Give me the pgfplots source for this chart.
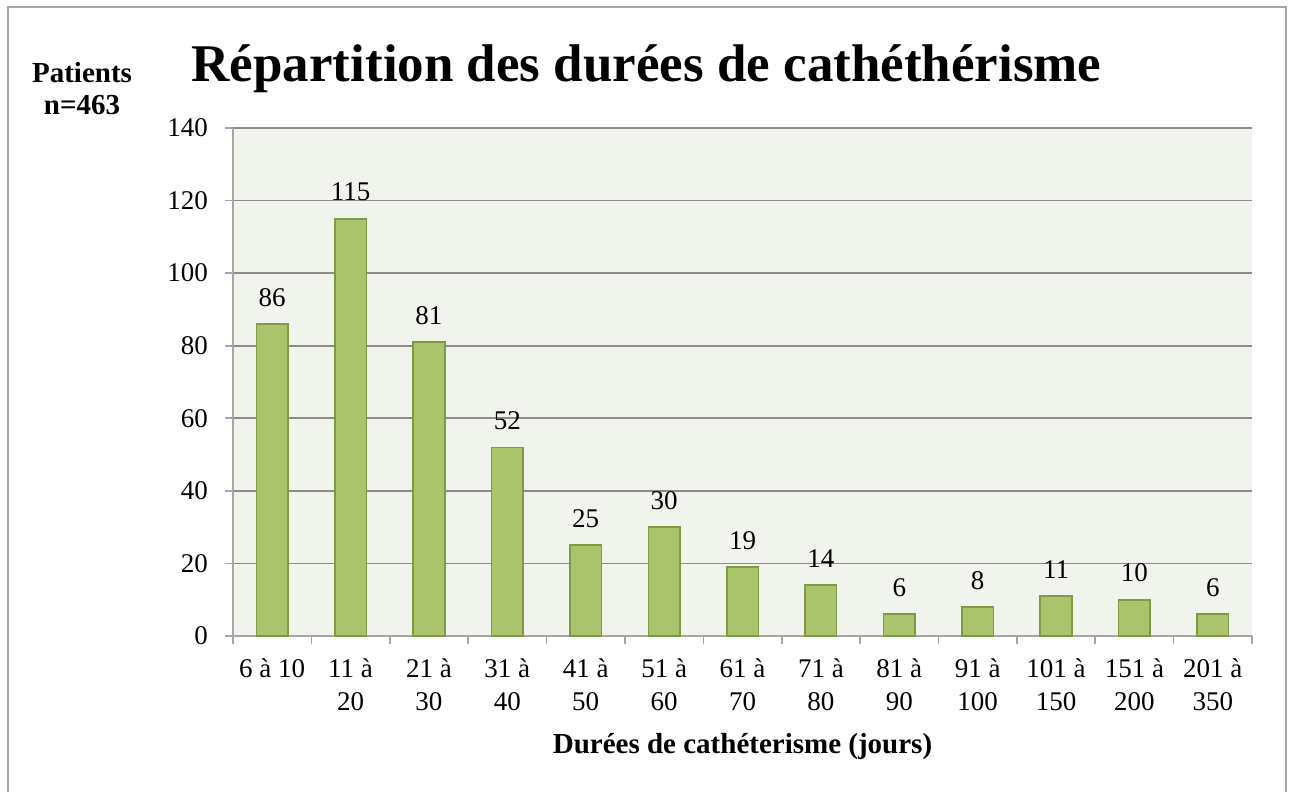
\documentclass[border=0pt]{standalone}
\usepackage{fontspec}
\setmainfont{Liberation Serif}
\usepackage{pgfplots}
\pgfplotsset{compat=1.18}
\definecolor{plotbg}{RGB}{241,244,236}
\definecolor{barfill}{RGB}{170,196,108}
\definecolor{baredge}{RGB}{126,155,68}
\definecolor{gridgray}{RGB}{140,140,140}
\definecolor{framegray}{RGB}{166,166,166}
\newcommand{\lbl}{\fontsize{13.5}{16.5}\selectfont}

\begin{document}
\begin{tikzpicture}
\useasboundingbox (0,0) rectangle (646.5pt,395.5pt);
\draw[framegray, line width=1pt] (4pt,-10pt) rectangle (643pt,392pt);
\node[anchor=base, font=\fontsize{26.5}{30}\selectfont\bfseries] at (323.25pt,354.5pt)
  {Répartition des durées de cathéthérisme};
\node[anchor=base, font=\fontsize{14.5}{16}\selectfont\bfseries] at (41pt,354pt) {Patients};
\node[anchor=base, font=\fontsize{14.5}{16}\selectfont\bfseries] at (41pt,338pt) {n=463};
\node[anchor=base, font=\fontsize{14.5}{16}\selectfont\bfseries] at (371.25pt,19pt)
  {Durées de cathéterisme (jours)};
\begin{axis}[
  at={(116.5pt,77.5pt)}, anchor=south west,
  width=509.5pt, height=254pt, scale only axis,
  /pgf/number format/assume math mode=true,
  xmin=-0.5, xmax=12.5, ymin=0, ymax=140,
  ytick={0,20,...,140},
  xtick={-0.5,0.5,1.5,2.5,3.5,4.5,5.5,6.5,7.5,8.5,9.5,10.5,11.5,12.5},
  xticklabels={},
  extra x ticks={0,1,2,3,4,5,6,7,8,9,10,11,12},
  extra x tick labels={{6 à 10},{11 à\\20},{21 à\\30},{31 à\\40},{41 à\\50},
    {51 à\\60},{61 à\\70},{71 à\\80},{81 à\\90},{91 à\\100},{101 à\\150},
    {151 à\\200},{201 à\\350}},
  extra x tick style={major tick length=0pt,
    xticklabel style={align=center, anchor=north, yshift=-8pt}},
  axis x line*=bottom, axis y line*=left,
  axis line style={framegray, line width=0.8pt},
  tick style={framegray, line width=0.8pt},
  tick align=outside, major tick length=4pt,
  ymajorgrids, grid style={gridgray, line width=0.8pt},
  axis background/.style={fill=plotbg},
  tick label style={font=\lbl},
  yticklabel style={xshift=-5pt},
  ybar, bar width=15.8pt,
  nodes near coords,
  every node near coord/.append style={font=\lbl, yshift=5pt},
]
\addplot[fill=barfill, draw=baredge, line width=0.8pt] coordinates {
  (0,86) (1,115) (2,81) (3,52) (4,25) (5,30) (6,19)
  (7,14) (8,6) (9,8) (10,11) (11,10) (12,6)
};
\end{axis}
\end{tikzpicture}
\end{document}
